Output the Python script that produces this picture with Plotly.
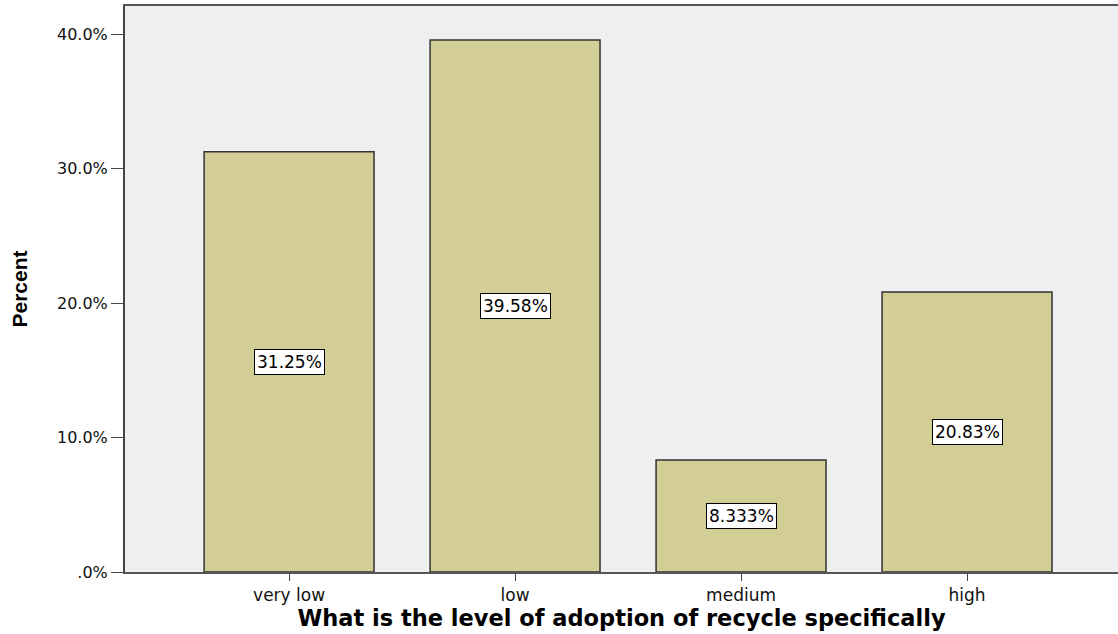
import plotly.graph_objects as go

categories = ["very low", "low", "medium", "high"]
percents = [31.25, 39.58, 8.333, 20.83]
labels = ["31.25%", "39.58%", "8.333%", "20.83%"]
ytickvals = [0, 10, 20, 30, 40]
yticktext = [".0%", "10.0%", "20.0%", "30.0%", "40.0%"]

fig = go.Figure()
fig.add_trace(go.Bar(
    x=categories, y=percents, width=0.752,
    marker=dict(color="#D3CD96", line=dict(color="#333333", width=1.5)),
    hoverinfo="skip",
))
for c, p, t in zip(categories, percents, labels):
    fig.add_annotation(x=c, y=p / 2, text=t, showarrow=False,
                       font=dict(family="DejaVu Sans", size=17, color="black"),
                       bgcolor="white", bordercolor="black", borderwidth=1, borderpad=2)

fig.update_layout(
    width=1118, height=634,
    margin=dict(l=125, r=0, t=6, b=62),
    paper_bgcolor="white", plot_bgcolor="#EFEFEF",
    showlegend=False,
    xaxis=dict(range=[-0.726, 3.668], showline=True, linecolor="#555", linewidth=2,
               mirror=True, ticks="outside", ticklen=7, tickcolor="#444",
               tickfont=dict(family="DejaVu Sans", size=17, color="#111"),
               title=dict(text="<b>What is the level of adoption of recycle specifically</b>",
                          font=dict(family="DejaVu Sans", size=22.5, color="black"),
                          standoff=4),
               showgrid=False, zeroline=False),
    yaxis=dict(range=[0, 42.1], tickvals=ytickvals, ticktext=yticktext,
               showline=True, linecolor="#444", linewidth=2,
               ticks="outside", ticklen=12, tickcolor="#444",
               tickfont=dict(family="DejaVu Sans", size=16, color="#111"),
               title=dict(text="<b>Percent</b>",
                          font=dict(family="Liberation Sans", size=21, color="black"),
                          standoff=24),
               showgrid=False, zeroline=False),
)
fig.write_html("out.html")
